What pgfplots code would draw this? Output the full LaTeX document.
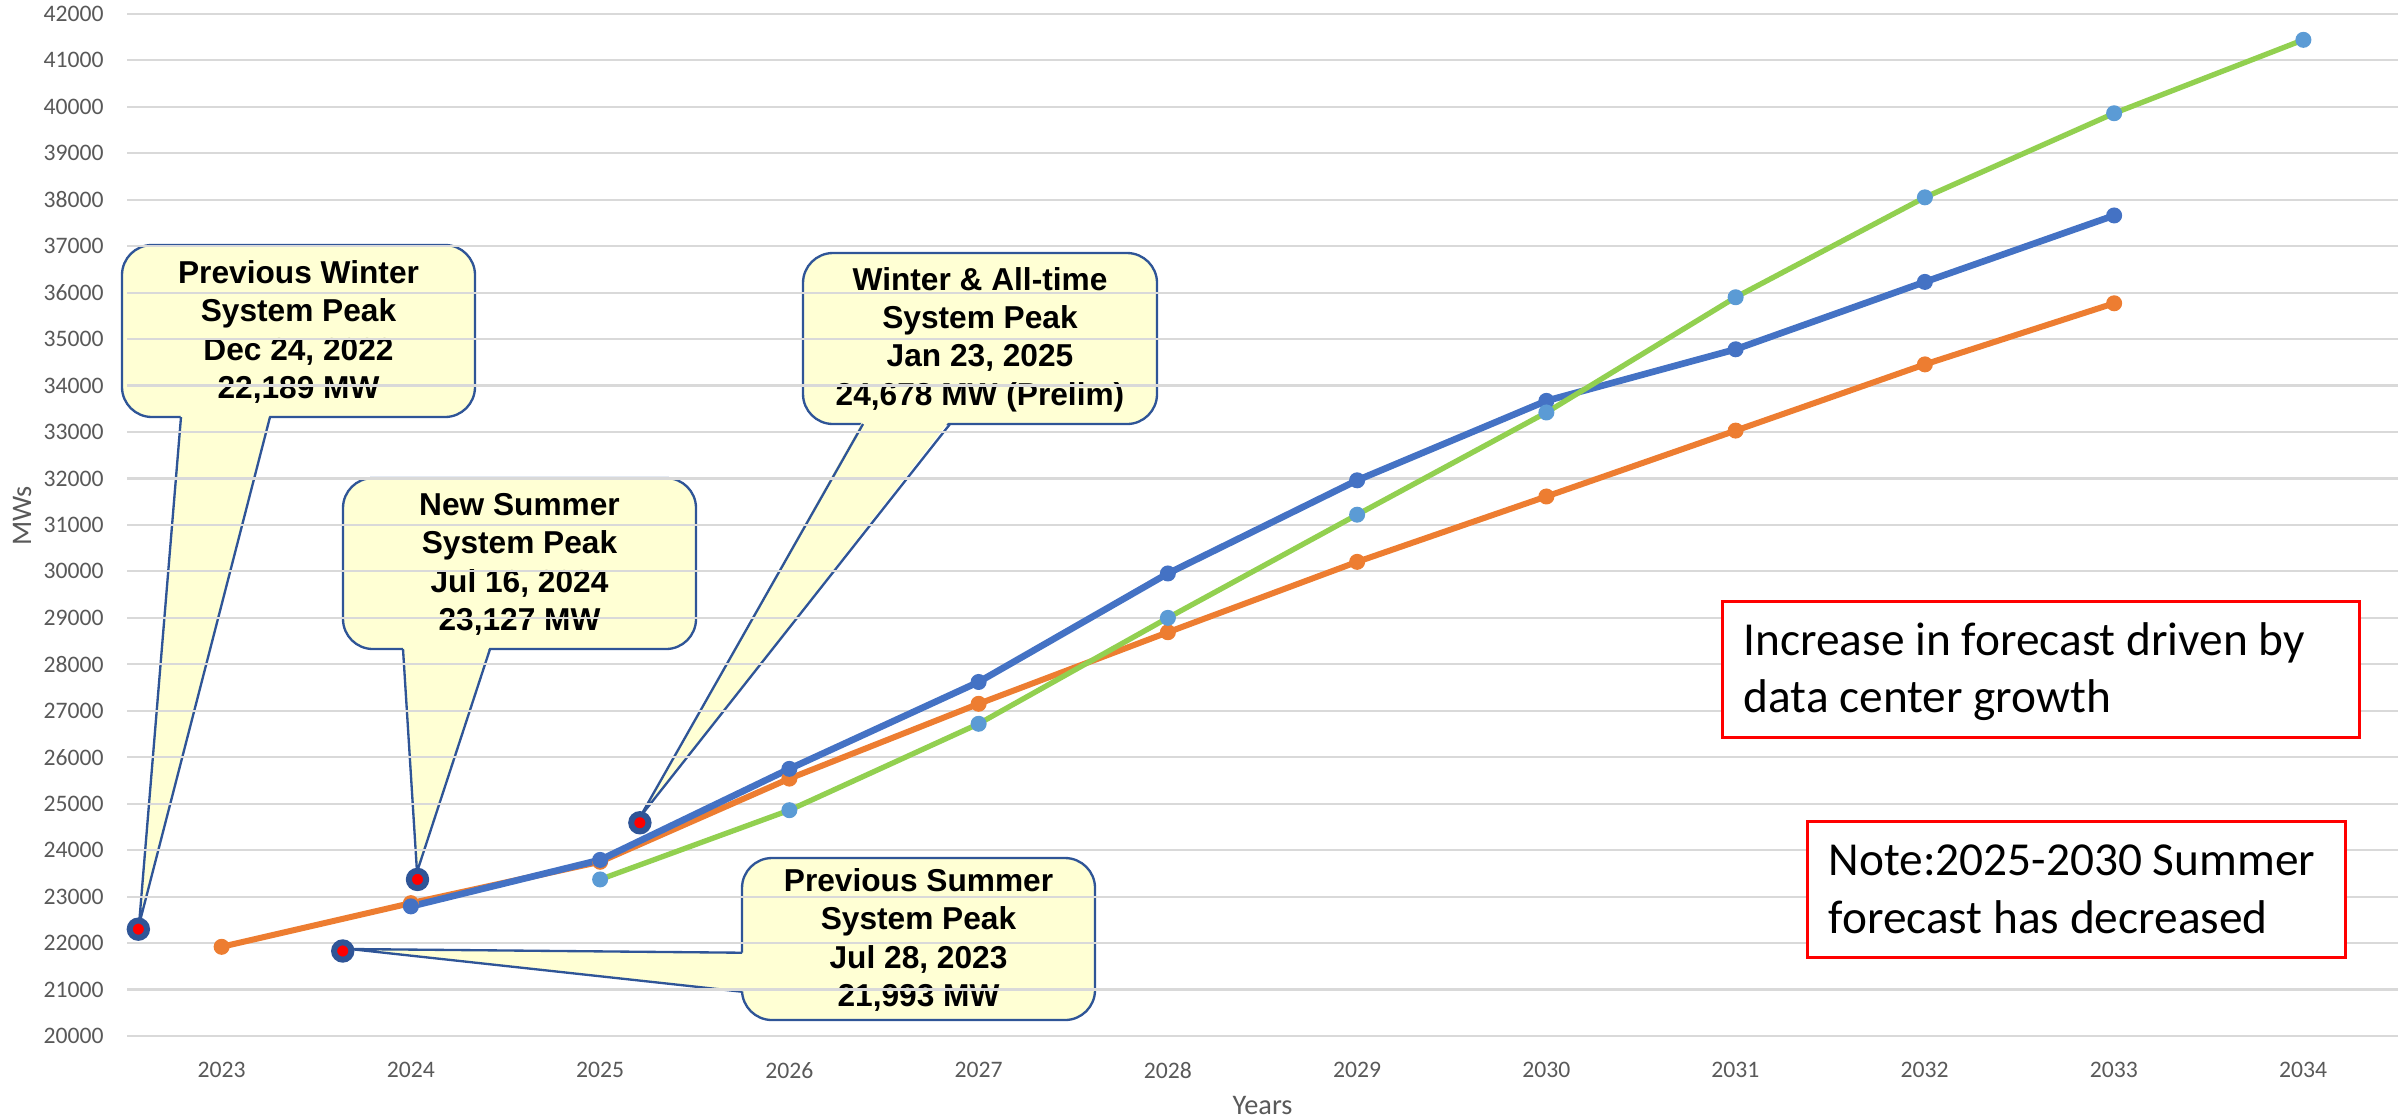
\documentclass[border=0pt]{standalone}
\usepackage{pgfplots}
\pgfplotsset{compat=1.18}
\usepackage{fontspec}
\setmainfont{Carlito}
\newfontfamily\arialfont{Liberation Sans}
\definecolor{cOrange}{HTML}{ED7D31}
\definecolor{cBlue}{HTML}{4472C4}
\definecolor{cGreen}{HTML}{92D050}
\definecolor{cLtBlue}{HTML}{5B9BD5}
\definecolor{cNavy}{HTML}{2F5597}
\definecolor{cGrid}{HTML}{D9D9D9}
\definecolor{cText}{HTML}{595959}
\definecolor{cCallout}{HTML}{FFFFD4}
\definecolor{cRed}{HTML}{FF0000}

% callout with wedge on the bottom edge: box x0,y0,x1,y1 ; base xa,xb ; tip tx,ty (pixel units)
\newcommand{\calloutB}[9]{%
  \filldraw[fill=cCallout, draw=cNavy, line width=0.7pt, rounded corners=9pt] (#1,#2) rectangle (#3,#4);
  \fill[cCallout] (#5,#4-4) -- (#7,#8) -- (#6,#4-4) -- cycle;
  \draw[cNavy, line width=0.7pt, line join=round] (#5,#4) -- (#7,#8) -- (#6,#4);
  \node[font=\arialfont\bfseries\fontsize{9.5}{11.5}\selectfont, align=center, inner sep=0pt] at ({(#1+#3)/2},{(#2+#4)/2+1}) {#9};
}

\begin{document}
\begin{tikzpicture}
\path[use as bounding box] (0,0) rectangle (722.1pt,-335.1pt);

\begin{scope}[x=0.3pt, y=-0.3pt]
  \calloutB{122}{245}{475}{417}{181}{270}{139}{925}{Previous Winter\\System Peak\\Dec 24, 2022\\22,189 MW}
  \calloutB{343}{478}{696}{649}{403}{490}{417}{872}{New Summer\\System Peak\\Jul 16, 2024\\23,127 MW}
  \calloutB{803}{253}{1157}{424}{863}{950}{640}{817}{Winter \& All-time\\System Peak\\Jan 23, 2025\\24,678 MW (Prelim)}
  % callout with wedge on the left edge
  \filldraw[fill=cCallout, draw=cNavy, line width=0.7pt, rounded corners=9pt] (742,858) rectangle (1095,1020);
  \fill[cCallout] (746,952.7) -- (350,949) -- (746,991.7) -- cycle;
  \draw[cNavy, line width=0.7pt, line join=round] (742,952.7) -- (350,949) -- (742,991.7);
  \node[font=\arialfont\bfseries\fontsize{9.5}{11.5}\selectfont, align=center, inner sep=0pt] at (918.5,940) {Previous Summer\\System Peak\\Jul 28, 2023\\21,993 MW};
\end{scope}

\begin{axis}[
  at={(38.1pt,-310.8pt)}, anchor=south west,
  scale only axis, width=681.3pt, height=306.66pt,
  xmin=2022.5, xmax=2034.5, ymin=20000, ymax=42000,
  enlargelimits=false,
  scaled x ticks=false, scaled y ticks=false,
  xtick={2023,...,2034},
  ytick={20000,21000,...,42000},
  /pgf/number format/assume math mode=true,
  /pgf/number format/1000 sep={},
  ymajorgrids, grid style={cGrid, line width=0.65pt},
  axis line style={draw=none},
  major tick length=0pt,
  tick style={draw=none},
  every tick label/.append style={inner sep=0pt, text=cText, font=\fontsize{7.1}{8.5}\selectfont},
  yticklabel style={anchor=east},
  xticklabel style={anchor=north},
  yticklabel shift=6.8pt,
  xticklabel shift=7.7pt,
  xlabel={Years}, ylabel={MWs},
  every axis x label/.style={at={(axis description cs:0.5,-0.0763)}, anchor=base, text=cText, font=\fontsize{8.5}{10}\selectfont},
  every axis y label/.style={at={(axis description cs:-0.0462,0.5087)}, rotate=90, anchor=center, text=cText, font=\fontsize{8.5}{10}\selectfont},
  clip=false,
]
% Summer forecast (orange)
\addplot[cOrange, line width=1.8pt, line join=round, mark=*, mark size=2.2pt, mark options={fill=cOrange, draw=cOrange, line width=0.4pt}] coordinates {
 (2023,21920) (2024,22860) (2025,23750) (2026,25540) (2027,27150) (2028,28690)
 (2029,30205) (2030,31612) (2031,33030) (2032,34455) (2033,35770)};
% Winter forecast (blue)
\addplot[cBlue, line width=2.0pt, line join=round, mark=*, mark size=2.2pt, mark options={fill=cBlue, draw=cBlue, line width=0.4pt}] coordinates {
 (2024,22790) (2025,23790) (2026,25750) (2027,27620) (2028,29955) (2029,31960)
 (2030,33670) (2031,34780) (2032,36230) (2033,37660)};
% New forecast (green line, light blue markers)
\addplot[cGreen, line width=1.6pt, line join=round, mark=*, mark size=2.2pt, mark options={fill=cLtBlue, draw=cLtBlue, line width=0.4pt}] coordinates {
 (2025,23370) (2026,24860) (2027,26720) (2028,29000) (2029,31220) (2030,33420)
 (2031,35900) (2032,38050) (2033,39860) (2034,41440)};
% System peaks
\addplot[only marks, mark=*, mark size=2.6pt, mark options={draw=cNavy, fill=cRed, line width=1.8pt}] coordinates {
 (2022.56,22300) (2023.64,21830) (2024.035,23370) (2025.21,24590)};
\end{axis}

\begin{scope}[x=0.3pt, y=-0.3pt]
  \filldraw[fill=white, draw=cRed, line width=0.9pt] (1722,601) rectangle (2359,737);
  \filldraw[fill=white, draw=cRed, line width=0.9pt] (1807,821) rectangle (2345,957);
  \begin{scope}[every node/.style={anchor=base west, inner sep=0pt, font=\fontsize{14.2}{17}\selectfont}]
    \node at (1743,655) {Increase in forecast driven by};
    \node at (1743,712.7) {data center growth};
    \node at (1828,875.5) {Note:2025-2030 Summer};
    \node at (1828,933.4) {forecast has decreased};
  \end{scope}
\end{scope}
\end{tikzpicture}
\end{document}
